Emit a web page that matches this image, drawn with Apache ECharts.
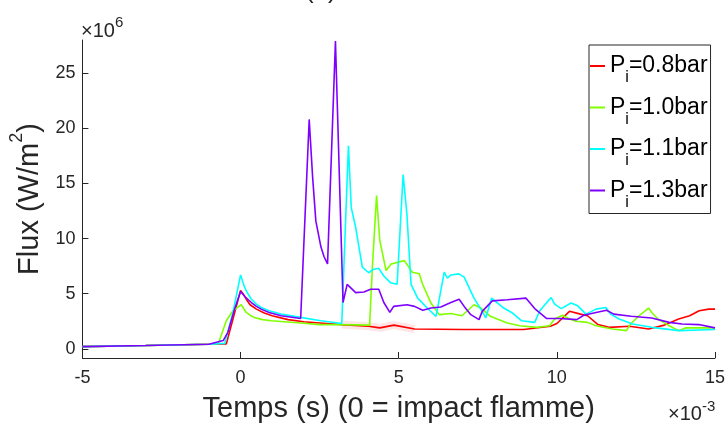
<!DOCTYPE html>
<html>
<head>
<meta charset="utf-8">
<script src="https://cdn.jsdelivr.net/npm/echarts@6/dist/echarts.min.js"></script>
<style>html,body{margin:0;padding:0;background:#fff}#c{width:728px;height:428px}</style>
</head>
<body>
<div id="c"></div>
<script>
// ---- data (time in 1e-3 s, flux in 1e6 W/m2) ----
const pressures = ['0.8', '1.0', '1.1', '1.3'];
const colors = ['#ff0000', '#80ff00', '#00ffff', '#8000ff'];

const redT = [-5, -3, -1, -0.45, -0.24, 0, 0.1, 0.18, 0.3, 0.5, 0.75, 1.0, 1.5, 2.0, 2.5, 3.2, 4.05, 4.4, 4.85, 5.5, 7.0, 8.95, 9.8, 10.0, 10.4, 10.75, 10.97, 11.3, 11.65, 12.3, 12.9, 13.4, 13.85, 14.2, 14.5, 14.8, 15];
const redV = [0.2, 0.3, 0.42, 0.45, 2.7, 5.3, 4.9, 4.5, 4.0, 3.6, 3.25, 3.0, 2.65, 2.45, 2.35, 2.2, 2.05, 1.9, 2.15, 1.8, 1.75, 1.75, 2.05, 2.3, 3.4, 3.15, 3.0, 2.2, 1.95, 2.05, 1.8, 2.15, 2.7, 3.0, 3.45, 3.6, 3.6];

const greenT = [-5, -3, -1, -0.7, -0.45, -0.24, 0.02, 0.18, 0.3, 0.43, 0.7, 0.97, 1.9, 2.5, 3.17, 4.08, 4.13, 4.17, 4.3, 4.4, 4.6, 4.76, 5.18, 5.43, 5.65, 5.75, 6.02, 6.28, 6.65, 7.0, 7.38, 7.6, 7.9, 8.43, 8.83, 9.35, 9.77, 9.93, 10.18, 10.4, 10.6, 10.97, 11.24, 11.75, 12.2, 12.33, 12.6, 12.9, 13.0, 13.2, 13.55, 13.85, 14.07, 15];
const greenV = [0.2, 0.3, 0.42, 0.5, 2.55, 3.45, 4.0, 3.3, 3.05, 2.85, 2.65, 2.55, 2.35, 2.2, 2.2, 2.15, 2.2, 7.5, 13.9, 9.85, 7.1, 7.7, 8.0, 6.95, 6.8, 5.9, 4.15, 3.1, 3.2, 3.0, 4.0, 3.7, 2.95, 2.35, 2.1, 1.95, 2.1, 2.7, 3.05, 2.7, 2.5, 2.4, 2.1, 1.8, 1.65, 2.25, 3.0, 3.7, 3.3, 2.7, 2.1, 1.65, 1.9, 1.9];

const cyanT = [-5, -3, -1, -0.5, -0.24, 0, 0.1, 0.18, 0.34, 0.5, 0.65, 0.9, 1.28, 1.9, 2.54, 3.2, 3.41, 3.5, 3.64, 3.85, 4.05, 4.19, 4.37, 4.53, 4.74, 4.95, 5.14, 5.26, 5.39, 5.6, 5.9, 6.18, 6.25, 6.44, 6.54, 6.65, 6.9, 7.07, 7.38, 7.64, 7.75, 7.94, 8.06, 8.32, 8.57, 8.88, 9.3, 9.46, 9.82, 9.93, 10.14, 10.45, 10.66, 10.92, 11.24, 11.55, 11.7, 11.97, 12.39, 13.0, 13.86, 15];
const cyanV = [0.2, 0.3, 0.42, 0.5, 3.3, 6.7, 5.8, 5.25, 4.5, 4.05, 3.75, 3.45, 3.15, 2.85, 2.55, 2.3, 18.4, 12.8, 11.0, 7.4, 6.9, 7.2, 7.3, 6.6, 6.0, 5.85, 15.8, 12.2, 5.85, 4.6, 3.7, 2.95, 4.0, 6.95, 6.4, 6.7, 6.8, 6.5, 4.6, 3.4, 2.8, 4.6, 4.3, 3.7, 3.3, 2.55, 2.4, 3.45, 4.65, 4.05, 3.65, 4.15, 3.9, 3.15, 3.6, 3.75, 3.15, 2.7, 2.25, 1.95, 1.65, 1.75];

const purpleT = [-5, -3, -1, -0.55, -0.4, -0.19, 0, 0.15, 0.34, 0.5, 0.65, 0.9, 1.28, 1.9, 1.96, 2.17, 2.28, 2.38, 2.54, 2.64, 2.75, 3.0, 3.24, 3.37, 3.64, 3.9, 4.11, 4.37, 4.53, 4.72, 4.84, 5.26, 5.5, 5.76, 6.02, 6.33, 6.65, 6.91, 7.07, 7.28, 7.54, 7.64, 7.96, 8.43, 9.02, 9.3, 9.68, 10.1, 10.63, 10.85, 11.24, 11.57, 11.8, 12.35, 13.0, 13.55, 13.96, 14.49, 15];
const purpleV = [0.2, 0.3, 0.42, 0.75, 1.5, 3.6, 5.2, 4.7, 4.2, 3.85, 3.6, 3.3, 3.0, 2.75, 2.7, 20.8, 15.5, 11.6, 9.25, 8.35, 7.7, 27.9, 4.2, 5.85, 5.1, 5.15, 5.4, 5.4, 4.2, 3.3, 3.85, 4.0, 3.85, 3.5, 3.7, 3.8, 4.2, 4.5, 3.85, 3.1, 2.65, 3.4, 4.35, 4.45, 4.6, 3.65, 2.75, 2.75, 2.65, 3.05, 3.3, 3.5, 3.15, 2.95, 2.8, 2.4, 2.25, 2.2, 1.9];

const xTicks = [-5, 0, 5, 10, 15];
const yTicks = [0, 5, 10, 15, 20, 25];

// ---- chart ----
const FONT = '"Liberation Sans", Arial, Helvetica, sans-serif';
const TXT = '#262626';
const allT = [redT, greenT, cyanT, purpleT];
const allV = [redV, greenV, cyanV, purpleV];
const names = pressures.map(p => 'P_i=' + p + 'bar');
const pair = (T, V) => T.map((t, i) => [t, V[i]]);

const series = [];
// faint pink shading around the red curve
series.push({
  type: 'line', name: 'band', silent: true, showSymbol: false, z: 1,
  data: pair(redT, redV).filter(d => (d[0] >= 3.2 && d[0] <= 5.6)),
  lineStyle: { width: 8, color: 'rgba(255,0,0,0.10)' }
});
names.forEach((n, k) => {
  series.push({
    type: 'line', name: n, showSymbol: false, symbol: 'none', z: 2 + k,
    color: colors[k],
    data: pair(allT[k], allV[k]),
    lineStyle: { width: 1.6, color: colors[k] },
    animation: false
  });
});

const expRich = {
  a: { fontSize: 20, fontFamily: FONT, color: TXT, lineHeight: 20 },
  b: { fontSize: 15, fontFamily: FONT, color: TXT, lineHeight: 15, padding: [0, 0, 16, 0] }
};
function expTitle(x, yTop, e) {
  return { text: '{a|×10}{b|' + e + '}', left: x, top: yTop, padding: 0,
    textStyle: { fontFamily: FONT, color: TXT, fontWeight: 'normal', rich: expRich } };
}

const chart = echarts.init(document.getElementById('c'), null, { renderer: 'canvas' });
chart.setOption({
  animation: false,
  backgroundColor: '#fff',
  title: [
    { text: '(a)', left: 305, top: -22, padding: 0, textStyle: { fontSize: 26, fontFamily: FONT, color: TXT, fontWeight: 'normal' } },
    expTitle(81, 21, '6'),
    expTitle(668, 404.5, '-3')
  ],
  grid: { left: 81, right: 11, top: 40, bottom: 65, containLabel: false },
  xAxis: {
    type: 'value', min: -5, max: 15, interval: 5,
    name: 'Temps (s) (0 = impact flamme)', nameLocation: 'middle', nameGap: 36,
    nameTextStyle: { fontFamily: FONT, fontSize: 29, color: TXT },
    axisLine: { show: true, onZero: false, lineStyle: { color: TXT, width: 1 } },
    axisTick: { show: true, inside: true, length: 6, lineStyle: { color: TXT } },
    axisLabel: { fontFamily: FONT, fontSize: 18, color: TXT, margin: 11, showMinLabel: true, showMaxLabel: true,
      customValues: xTicks },
    splitLine: { show: false }
  },
  yAxis: {
    type: 'value', min: -0.83, max: 28,
    name: '{a|Flux (W/m}{s|2}{a|)}', nameLocation: 'middle', nameRotate: 90, nameGap: 25,
    nameTextStyle: { fontFamily: FONT, color: TXT, rich: {
      a: { fontFamily: FONT, fontSize: 29, color: TXT },
      s: { fontFamily: FONT, fontSize: 18, color: TXT, padding: [0, 0, 26, 0] }
    } },
    axisLine: { show: true, onZero: false, lineStyle: { color: TXT, width: 1 } },
    axisTick: { show: true, inside: true, length: 6, lineStyle: { color: TXT }, customValues: yTicks },
    axisLabel: { fontFamily: FONT, fontSize: 18, color: TXT, margin: 7, customValues: yTicks },
    splitLine: { show: false }
  },
  legend: {
    data: names,
    orient: 'vertical', left: 589, top: 45,
    icon: 'rect', itemWidth: 15, itemHeight: 2, itemGap: 1.5,
    padding: [1, 3, 3, 1],
    borderColor: TXT, borderWidth: 1, backgroundColor: '#fff',
    selectedMode: false,
    formatter: function (n) { const p = n.replace('P_i=', '').replace('bar', ''); return '{p|P}{s|i}{p|=' + p + 'bar}'; },
    textStyle: { fontFamily: FONT, color: '#000', rich: {
      p: { fontFamily: FONT, fontSize: 23, color: '#000', lineHeight: 28 },
      s: { fontFamily: FONT, fontSize: 16, color: '#000', lineHeight: 16, padding: [24, 0, 0, 0] }
    } }
  },
  series: series
});
</script>
</body>
</html>
